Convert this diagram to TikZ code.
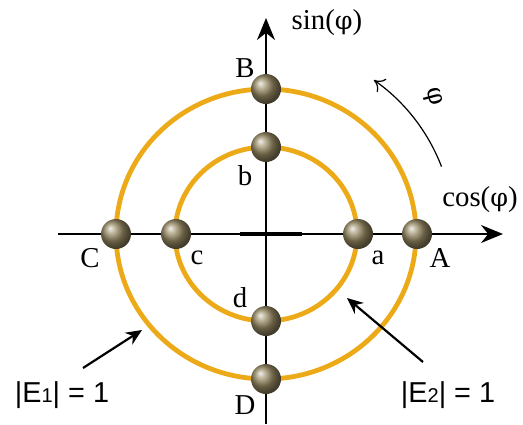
\documentclass[tikz,border=0pt]{standalone}
\usepackage{amsmath,amssymb}
\usepackage{fontspec}
\setmainfont{Liberation Serif}
\newfontfamily\labelsans{Liberation Sans}
\newfontfamily\phifont{DejaVu Serif}[Scale=0.88]
\newcommand{\ph}{{\phifont φ}}
\usepackage{xcolor}
\usepackage{tikz}
\usetikzlibrary{arrows.meta}
\definecolor{ringC}{RGB}{236,170,24}
\definecolor{ballC}{RGB}{150,136,98}

\begin{document}
\begin{tikzpicture}[x=0.5pt,y=0.5pt,
      ring/.style={draw=ringC,line width=2.4pt},
      ball/.style={circle,shading=ball,ball color=ballC,
                   minimum size=15pt,inner sep=0pt},
      axis/.style={-{Stealth[length=11pt,width=9pt]},line width=1pt},
      arr/.style={-{Stealth[length=8pt,width=7pt]},line width=1.1pt},
      lbl/.style={font=\Large},
      elbl/.style={font=\labelsans\Large}]
    \useasboundingbox (-266,-190) rectangle (257,234);
    \coordinate (O) at (0,0);
    % axes
    \coordinate (xl) at (-208,0);
    \coordinate (xr) at (237,0);
    \coordinate (yb) at (0,-190);
    \coordinate (yt) at (0,216);
    \draw[axis] (xl) -- (xr);
    \draw[axis] (yb) -- (yt);
    \draw[line width=1.9pt] (-26,0) -- (36,0);
    % rings
    \draw[ring] (O) ellipse [x radius=150,y radius=145];
    \draw[ring] (O) ellipse [x radius=91,y radius=87];
    % points
    \node[ball] (A) at (151,0) {};
    \node[ball] (C) at (-150,0) {};
    \node[ball] (B) at (0,145) {};
    \node[ball] (D) at (0,-145) {};
    \node[ball] (a) at (92,0) {};
    \node[ball] (c) at (-90,0) {};
    \node[ball] (b) at (0,87) {};
    \node[ball] (d) at (0,-87) {};
    \node[lbl] (Alab) at (174,-24) {A};
    \node[lbl] (Blab) at (-21,166) {B};
    \node[lbl] (Clab) at (-176,-24) {C};
    \node[lbl] (Dlab) at (-21,-171) {D};
    \node[lbl] (alab) at (112,-24) {a};
    \node[lbl] (blab) at (-21,58) {b};
    \node[lbl] (clab) at (-69,-24) {c};
    \node[lbl] (dlab) at (-26,-64) {d};
    \node[lbl] (sinlab) at (61,211) {sin(\ph)};
    \node[lbl] (coslab) at (214,34) {cos(\ph)};
    % rotation sense
    \coordinate (phi0) at (21:188);
    \draw[-{To[length=5pt,width=8pt]},line width=0.6pt]
      (phi0) arc (21:55:188);
    \node[lbl,rotate=-75] (philab) at (167,137) {\ph};
    % amplitude labels
    \node[elbl] (E1) at (-204,-161) {|E{\normalsize 1}| = 1};
    \node[elbl] (E2) at (182,-161) {|E{\normalsize 2}| = 1};
    \coordinate (E1tail) at (-183,-134);
    \coordinate (E1tip) at (-124,-96);
    \coordinate (E2tail) at (157,-128);
    \coordinate (E2tip) at (81,-64);
    \draw[arr] (E1tail) -- (E1tip);
    \draw[arr] (E2tail) -- (E2tip);
  \end{tikzpicture}
\end{document}
